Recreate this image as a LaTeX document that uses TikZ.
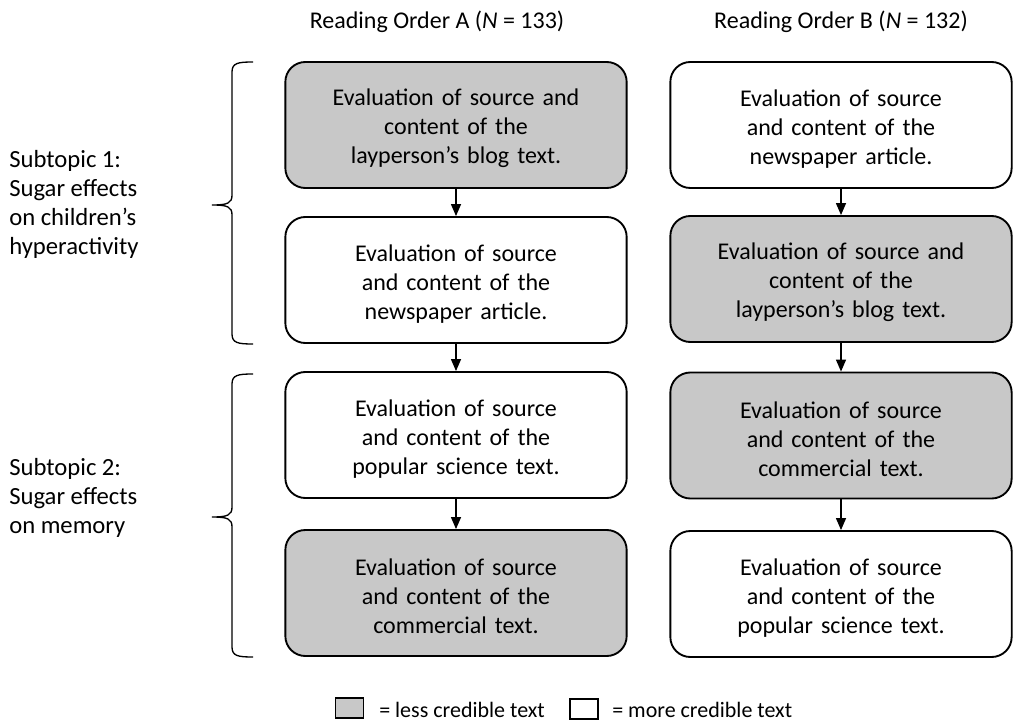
\documentclass[tikz,border=0pt]{standalone}
\usepackage{fontspec}
\setmainfont{Carlito}
\usetikzlibrary{arrows.meta}
\definecolor{boxgray}{RGB}{200,200,200}
\newcommand\cardstrut{\rule{0pt}{18pt}}
\begin{document}
\begin{tikzpicture}[x=0.75pt,y=-0.75pt,
  font=\fontsize{18}{21.75}\selectfont,
  card/.style={draw=black,line width=1.4pt,rounded corners=15pt,minimum width=256pt,minimum height=94.5pt,align=center,inner sep=0pt,text width=240pt},
  lesscard/.style={card,fill=boxgray},
  morecard/.style={card,fill=white},
  flow/.style={-{Triangle[length=9pt,width=7.5pt]},line width=1pt},
  bracestyle/.style={line width=1pt},
  label/.style={align=left,anchor=west,inner sep=0pt,font=\fontsize{18.5}{21.75}\selectfont},
  legendbox/.style={draw=black,line width=1.4pt,minimum width=21pt,minimum height=14.5pt,inner sep=0pt},
  legendtext/.style={anchor=west,inner sep=0pt,font=\fontsize{16.5}{20}\selectfont}
]
\useasboundingbox (0,0) rectangle (1016,723);

% headers
\node (hA) at (437,22) {Reading Order A (\textit{N} = 133)};
\node (hB) at (841,22) {Reading Order B (\textit{N} = 132)};

% column A
\node[lesscard] (a1) at (456,125) {\cardstrut Evaluation of source and\\content of the\\layperson’s blog text.};
\node[morecard] (a2) at (456,280) {\cardstrut Evaluation of source\\and content of the\\newspaper article.};
\node[morecard] (a3) at (456,435) {\cardstrut Evaluation of source\\and content of the\\popular science text.};
\node[lesscard] (a4) at (456,593) {\cardstrut Evaluation of source\\and content of the\\commercial text.};

% column B
\node[morecard] (b1) at (841,125) {\cardstrut Evaluation of source\\and content of the\\newspaper article.};
\node[lesscard] (b2) at (841,279) {\cardstrut Evaluation of source and\\content of the\\layperson’s blog text.};
\node[lesscard] (b3) at (841,435.5) {\cardstrut Evaluation of source\\and content of the\\commercial text.};
\node[morecard] (b4) at (841,594) {\cardstrut Evaluation of source\\and content of the\\popular science text.};

% arrows
\draw[flow] (a1) -- (a2);
\draw[flow] (a2) -- (a3);
\draw[flow] (a3) -- (a4);
\draw[flow] (b1) -- (b2);
\draw[flow] (b2) -- (b3);
\draw[flow] (b3) -- (b4);

% braces
\draw[bracestyle] (253,62) .. controls (238,62) and (232,63) .. (232,72) -- (232,195) .. controls (232,203) and (228,205) .. (212,205) .. controls (228,205) and (232,207) .. (232,215) -- (232,334) .. controls (232,343) and (238,344) .. (253,344);
\draw[bracestyle] (253,374) .. controls (238,374) and (232,375) .. (232,384) -- (232,507) .. controls (232,515) and (228,517) .. (212,517) .. controls (228,517) and (232,519) .. (232,527) -- (232,647) .. controls (232,656) and (238,657) .. (253,657);

% subtopic labels
\node[label] (s1) at (9,204) {Subtopic 1:\\Sugar effects\\on children’s\\hyperactivity};
\node[label] (s2) at (9,498) {Subtopic 2:\\Sugar effects\\on memory};

% legend
\node[legendbox,fill=boxgray] (lg) at (349.5,708) {};
\node[legendtext] (lgt) at (379,710) {= less credible text};
\node[legendbox,fill=white] (lw) at (584,709) {};
\node[legendtext] (lwt) at (612,710) {= more credible text};
\end{tikzpicture}
\end{document}
